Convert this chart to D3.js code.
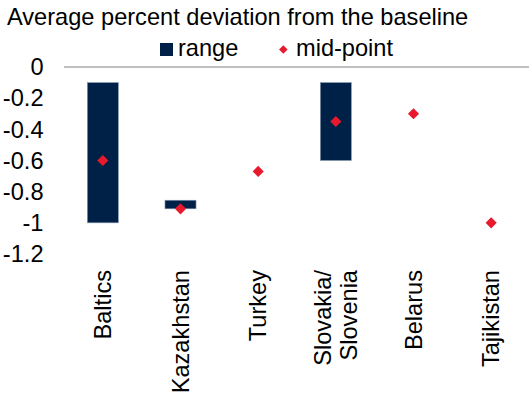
<!DOCTYPE html>
<html><head><meta charset="utf-8">
<script src="https://cdn.jsdelivr.net/npm/d3@7"></script>
<style>body{margin:0;background:#fff}svg{display:block}text{font-family:Arial,"Liberation Sans",sans-serif;fill:#000}</style>
</head><body><svg id="c" width="529" height="394"></svg>
<script>
const categories = ["Baltics", "Kazakhstan", "Turkey", "Slovakia/\nSlovenia", "Belarus", "Tajikistan"];
const rangeHigh = [-0.1, -0.855, null, -0.1, null, null];
const rangeLow = [-1.0, -0.91, null, -0.6, null, null];
const midPoint = [-0.6, -0.91, -0.67, -0.35, -0.3, -1.0];
const yTicks = [0, -0.2, -0.4, -0.6, -0.8, -1, -1.2];
const title = "Average percent deviation from the baseline";

const svg = d3.select("#c");
const fs = 23.6;
const x = d3.scaleBand().domain(categories).range([64, 530]).paddingInner(0.6).paddingOuter(0.3);
const y = d3.scaleLinear().domain([0, -1.2]).range([67, 254]);

svg.append("text").attr("x", 7).attr("y", 25).attr("font-size", fs).text(title);

// legend
svg.append("rect").attr("x", 160).attr("y", 43).attr("width", 13).attr("height", 13).attr("fill", "#002147");
svg.append("text").attr("x", 178).attr("y", 56).attr("font-size", fs).text("range");
svg.append("path").attr("d", d3.symbol(d3.symbolSquare, 36)()).attr("transform", "translate(283.3,49.5) rotate(45)").attr("fill", "#e8192c");
svg.append("text").attr("x", 296).attr("y", 56).attr("font-size", fs).text("mid-point");

// zero line
svg.append("line").attr("x1", 64).attr("x2", 529).attr("y1", y(0)).attr("y2", y(0)).attr("stroke", "#bfbfbf").attr("stroke-width", 2);

// y tick labels
svg.append("g").selectAll("text").data(yTicks).join("text")
  .attr("x", 43.5).attr("y", d => y(d)).attr("dy", "0.35em").attr("text-anchor", "end").attr("font-size", fs)
  .text(d => d === 0 ? "0" : d3.format(".1~f")(d).replace("−", "-"));

// bars
const rows = categories.map((c, i) => ({c, hi: rangeHigh[i], lo: rangeLow[i], m: midPoint[i]}));
svg.append("g").selectAll("rect").data(rows.filter(d => d.hi !== null)).join("rect")
  .attr("x", d => x(d.c)).attr("width", x.bandwidth())
  .attr("y", d => y(d.hi)).attr("height", d => y(d.lo) - y(d.hi))
  .attr("fill", "#002147").attr("stroke", "#8a9bb0").attr("stroke-width", 0.6);

// midpoints
svg.append("g").selectAll("path").data(rows).join("path")
  .attr("d", d3.symbol(d3.symbolSquare, 62)())
  .attr("transform", d => `translate(${x(d.c) + x.bandwidth() / 2},${y(d.m)}) rotate(45)`)
  .attr("fill", "#e8192c");

// x labels
const lh = 26.5;
rows.forEach(d => {
  const lines = d.c.split("\n");
  const cx = x(d.c) + x.bandwidth() / 2;
  lines.forEach((ln, j) => {
    const off = (j - (lines.length - 1) / 2) * lh;
    svg.append("text").attr("font-size", fs).attr("text-anchor", "end").attr("dy", "0.35em")
      .attr("transform", `translate(${cx + off},270) rotate(-90)`).text(ln);
  });
});
</script></body></html>
